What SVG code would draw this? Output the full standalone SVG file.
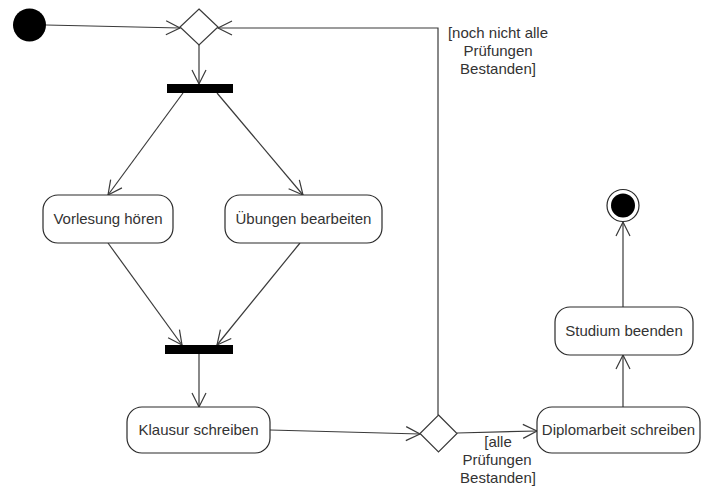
<svg xmlns="http://www.w3.org/2000/svg" width="702" height="487" viewBox="0 0 702 487">
  <style>
    .edge { fill: none; stroke: #3a3a3a; stroke-width: 1.2; }
    .action { fill: #ffffff; stroke: #2a2a2a; stroke-width: 1.2; }
    .decision { fill: #ffffff; stroke: #3a3a3a; stroke-width: 1.2; }
    .bar { fill: #000000; }
    text { font-family: "Liberation Sans", Arial, sans-serif; font-size: 15px; fill: #333333; text-anchor: middle; }
  </style>
  <defs>
    <marker id="open" markerUnits="userSpaceOnUse" markerWidth="20" markerHeight="20" viewBox="-16 -10 20 20" refX="0" refY="0" orient="auto">
      <path d="M-14,-7 L0,0 L-14,7" fill="none" stroke="#3a3a3a" stroke-width="1.2"/>
    </marker>
  </defs>

  <!-- connectors -->
  <g id="edges">
    <path class="edge" d="M46,25 L180,28" marker-end="url(#open)"/>
    <path class="edge" d="M199,45 L199,84" marker-end="url(#open)"/>
    <path class="edge" d="M183,93 L108,195" marker-end="url(#open)"/>
    <path class="edge" d="M217,93 L303,195" marker-end="url(#open)"/>
    <path class="edge" d="M108,243 L182,345" marker-end="url(#open)"/>
    <path class="edge" d="M300,243 L217,345" marker-end="url(#open)"/>
    <path class="edge" d="M199,354 L199,407" marker-end="url(#open)"/>
    <path class="edge" d="M270,430 L420,434" marker-end="url(#open)"/>
    <path class="edge" d="M438,415 L438,28 L218,28" marker-end="url(#open)"/>
    <path class="edge" d="M457,433 L537,431" marker-end="url(#open)"/>
    <path class="edge" d="M623,407 L623,355" marker-end="url(#open)"/>
    <path class="edge" d="M623,307 L623,222" marker-end="url(#open)"/>
    <text x="498" y="38">[noch nicht alle</text>
    <text x="498" y="56">Prüfungen</text>
    <text x="498" y="74">Bestanden]</text>
    <text x="498" y="447">[alle</text>
    <text x="497" y="465">Prüfungen</text>
    <text x="498" y="483">Bestanden]</text>
  </g>

  <g id="start">
    <circle cx="29.5" cy="25" r="16.5" fill="#000000"/>
  </g>

  <g id="merge">
    <path class="decision" d="M199,9 L218,27 L199,45 L180,27 Z"/>
  </g>

  <g id="fork">
    <rect class="bar" x="167" y="84" width="66" height="9"/>
  </g>

  <g id="vorlesung">
    <rect class="action" x="43" y="195" width="130" height="48" rx="15" ry="15"/>
    <text x="108" y="224">Vorlesung hören</text>
  </g>

  <g id="uebungen">
    <rect class="action" x="225" y="195" width="157" height="48" rx="15" ry="15"/>
    <text x="303.5" y="224">Übungen bearbeiten</text>
  </g>

  <g id="join">
    <rect class="bar" x="165" y="345" width="68" height="9"/>
  </g>

  <g id="klausur">
    <rect class="action" x="127" y="407" width="143" height="46" rx="15" ry="15"/>
    <text x="198.5" y="435">Klausur schreiben</text>
  </g>

  <g id="decision">
    <path class="decision" d="M438.5,415 L457,433.5 L438.5,452 L420,433.5 Z"/>
  </g>

  <g id="diplomarbeit">
    <rect class="action" x="537" y="407" width="163" height="46" rx="15" ry="15"/>
    <text x="618.5" y="435">Diplomarbeit schreiben</text>
  </g>

  <g id="studium">
    <rect class="action" x="555" y="307" width="138" height="48" rx="15" ry="15"/>
    <text x="624" y="336">Studium beenden</text>
  </g>

  <g id="end">
    <circle cx="623" cy="205.5" r="16" fill="#ffffff" stroke="#2a2a2a" stroke-width="1.2"/>
    <circle cx="623" cy="205.5" r="12" fill="#000000"/>
  </g>
</svg>
